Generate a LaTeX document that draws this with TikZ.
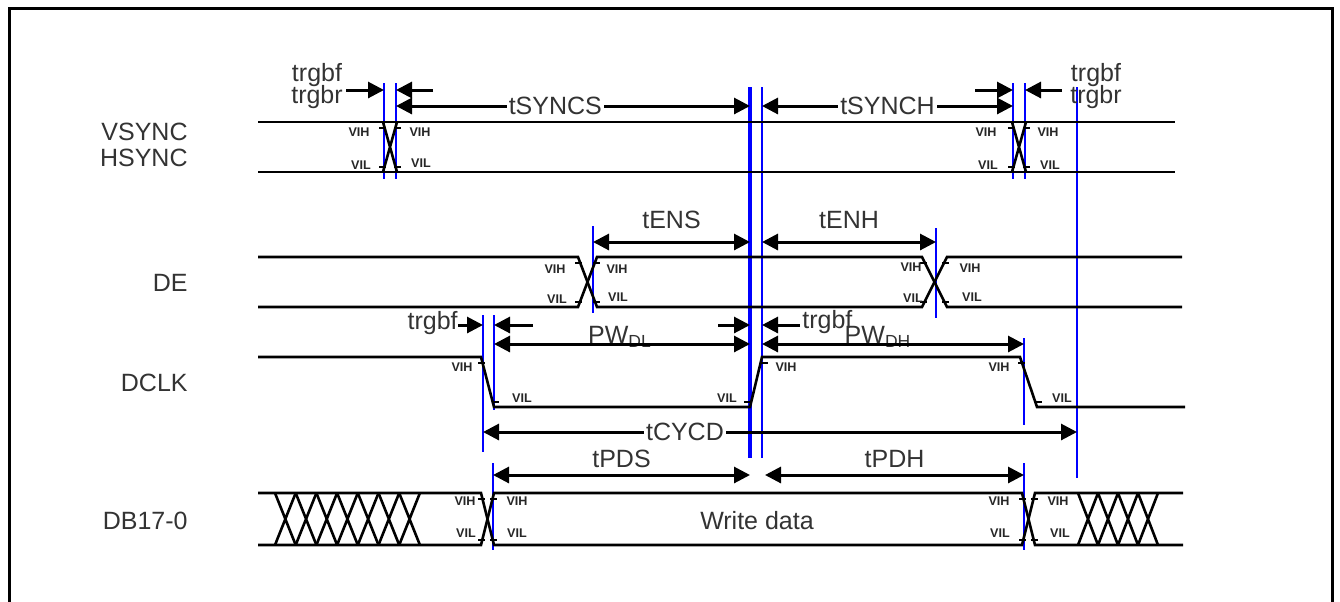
\documentclass[tikz,border=0pt]{standalone}
\usepackage{fontspec}
\setmainfont{Liberation Sans}
\usetikzlibrary{arrows.meta}
\usetikzlibrary{positioning}

\tikzset{
 sig/.style={line width=1.3pt},
 bline/.style={blue,line width=1.4pt},
 bthick/.style={blue,line width=2.4pt},
 dim/.style={line width=1.5pt,{Triangle[length=8pt,width=8pt]}-{Triangle[length=8pt,width=8pt]}},
 toarr/.style={line width=1.5pt,-{Triangle[length=8pt,width=8pt]}},
 txt/.style={font=\fontsize{12.5}{14}\selectfont,text=black!80,inner sep=1pt},
 lvl/.style={font=\bfseries\fontsize{6.3}{7}\selectfont,text=black!85,inner sep=0pt},
}
\newcommand\lvlticks[4]{\draw[line width=1.2pt] ({#1-4},{#3+6}) -- ({#1+3},{#3+6}) ({#2-3},{#3+6}) -- ({#2+4},{#3+6}) ({#1-4},{#4-5}) -- ({#1+3},{#4-5}) ({#2-3},{#4-5}) -- ({#2+4},{#4-5});}

\begin{document}
\begin{tikzpicture}[x=0.5pt,y=-0.5pt]
 \useasboundingbox (0,0) rectangle (1340,601);
 \draw[line width=1.5pt] (9,8) rectangle (1332,640);

 \node[txt,anchor=east] (vsync) at (190,132) {VSYNC};
 \node[txt,anchor=east] (hsync) at (190,158) {HSYNC};
 \node[txt,anchor=east] (de) at (190,283) {DE};
 \node[txt,anchor=east] (dclk) at (190,383) {DCLK};
 \node[txt,anchor=east] (db) at (190,521) {DB17-0};

 % reference lines
 \foreach \n/\x/\ya/\yb in {s1/384/83/179, s2/396/83/179, s3/1013/83/179, s4/1025/83/179,
   e1/593/226/313, e2/936/228/318, c1/483/315/452, c2/494/315/410, c3/1024/338/425,
   d1/493/463/550, d2/1024/463/550, r1/762/87/458, r2/1077/87/478}
   \draw[bline] (\x,\ya) coordinate (\n) -- (\x,\yb);
 \draw[bthick] (750,87) coordinate (m) -- (750,458);

 % signals
 \draw[sig] (258,122) -- (1175,122) (258,172) -- (1175,172);
 \draw[sig] (383,122) -- (397,172) (397,122) -- (383,172);
 \draw[sig] (1012,122) -- (1026,172) (1026,122) -- (1012,172);
 \lvlticks{383}{397}{122}{172}
 \lvlticks{1012}{1026}{122}{172}

 \draw[sig] (258,257) -- (578,257) -- (597,307) -- (922,307) -- (947,257) -- (1182,257);
 \draw[sig] (258,307) -- (578,307) -- (597,257) -- (922,257) -- (947,307) -- (1182,307);
 \lvlticks{579}{596}{257}{307}
 \lvlticks{924}{945}{257}{307}

 \draw[sig] (258,357) -- (481,357) -- (494,407) -- (750,407) -- (762,357) -- (1020,357) -- (1037,407) -- (1185,407);
 \draw[line width=1.2pt] (478,363) -- (485,363) (492,402) -- (499,402) (744,402) -- (751,402)
   (761,363) -- (768,363) (1018,363) -- (1025,363) (1035,402) -- (1042,402);

 \draw[sig] (258,493) -- (481,493) -- (494,545) -- (1022,545) -- (1035,493) -- (1183,493);
 \draw[sig] (258,545) -- (481,545) -- (494,493) -- (1022,493) -- (1035,545) -- (1183,545);
 \lvlticks{482}{493}{493}{545}
 \lvlticks{1023}{1034}{493}{545}
 \foreach \i in {0,...,6}
   \draw[sig] ({275+\i*20.7},493) -- ({295.7+\i*20.7},545) ({295.7+\i*20.7},493) -- ({275+\i*20.7},545);
 \foreach \i in {0,...,3}
   \draw[sig] ({1078+\i*20},493) -- ({1098+\i*20},545) ({1098+\i*20},493) -- ({1078+\i*20},545);
 \node[txt] (wdata) at (757,521) {Write data};

 % VIH / VIL
 \foreach \n/\x/\y/\t in {a1/359/132/VIH, a2/420/132/VIH, a3/361/165/VIL, a4/421/163/VIL,
   b1/986/132/VIH, b2/1048/132/VIH, b3/988/165/VIL, b4/1050/165/VIL,
   e1/555/269/VIH, e2/617/269/VIH, e3/557/299/VIL, e4/618/297/VIL,
   f1/911/267/VIH, f2/970/268/VIH, f3/913/298/VIL, f4/972/297/VIL,
   k1/462/367/VIH, k2/522/398/VIL, k3/727/398/VIL, k4/786/367/VIH, k5/999/367/VIH, k6/1062/398/VIL,
   p1/465/501/VIH, p2/517/501/VIH, p3/466/533/VIL, p4/517/533/VIL,
   q1/999/501/VIH, q2/1058/501/VIH, q3/1000/533/VIL, q4/1060/533/VIL}
   \node[lvl] (lv\n) at (\x,\y) {\t};

 % timing
 \node[txt] (tf1) at (317,75) {trgbf};
 \node[txt] (tr1) at (317,97) {trgbr};
 \draw[toarr] (346,90) -- (s1 |- 0,90);
 \draw[toarr] (433,90) -- (s2 |- 0,90);
 \draw[dim] (s2 |- 0,106) -- (m |- 0,106) node[pos=0.45,txt,fill=white] (tsyncs) {tSYNCS};
 \draw[dim] (r1 |- 0,106) -- (s3 |- 0,106) node[midway,txt,fill=white] (tsynch) {tSYNCH};
 \draw[toarr] (975,90) -- (s3 |- 0,90);
 \draw[toarr] (1062,90) -- (s4 |- 0,90);
 \node[txt] (tf2) at (1096,75) {trgbf};
 \node[txt] (tr2) at (1096,97) {trgbr};

 \draw[dim] (e1 |- 0,242) -- (m |- 0,242) node[midway,txt,above=5pt] (tens) {tENS};
 \draw[dim] (r1 |- 0,242) -- (e2 |- 0,242) node[midway,txt,above=5pt] (tenh) {tENH};

 \node[txt,anchor=east] (tf3) at (460,323) {trgbf};
 \draw[toarr] (458,325) -- (c1 |- 0,325);
 \draw[toarr] (533,325) -- (c2 |- 0,325);
 \draw[toarr] (718,325) -- (m |- 0,325);
 \draw[toarr] (800,325) -- (r1 |- 0,325);
 \node[txt,anchor=west] (tf4) at (800,322) {trgbf};
 \node[txt] (pwdl) at (620,337) {PW\textsubscript{DL}};
 \node[txt] (pwdh) at (878,337) {PW\textsubscript{DH}};
 \draw[dim] (c2 |- 0,344) -- (m |- 0,344);
 \draw[dim] (r1 |- 0,344) -- (c3 |- 0,344);
 \draw[dim] (c1 |- 0,432) -- (r2 |- 0,432) node[pos=0.34,txt,fill=white] (tcycd) {tCYCD};

 \draw[dim] (d1 |- 0,475) -- (m |- 0,475) node[midway,txt,above=2pt] (tpds) {tPDS};
 \draw[dim] (765,475) -- (d2 |- 0,475) node[midway,txt,above=2pt] (tpdh) {tPDH};
\end{tikzpicture}
\end{document}
